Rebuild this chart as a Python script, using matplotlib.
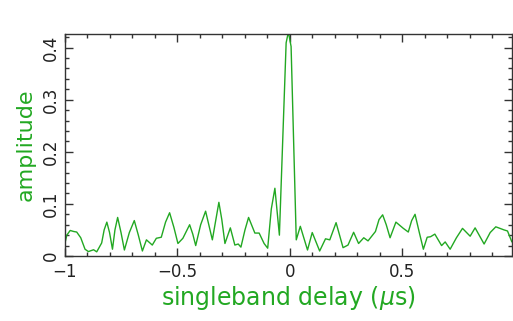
import matplotlib
matplotlib.use('Agg')
import matplotlib.pyplot as plt
from matplotlib.ticker import MultipleLocator

# values (delay in microseconds, amplitude)
delay = [-1.000, -0.992, -0.977, -0.961, -0.948, -0.930, -0.911, -0.896, -0.873, -0.859,
         -0.837, -0.826, -0.814, -0.802, -0.789, -0.778, -0.766, -0.751, -0.736, -0.714,
         -0.692, -0.674, -0.656, -0.638, -0.612, -0.594, -0.572, -0.553, -0.535, -0.516,
         -0.498, -0.476, -0.446, -0.432, -0.419, -0.397, -0.375, -0.345, -0.316, -0.303,
         -0.289, -0.265, -0.245, -0.230, -0.218, -0.200, -0.184, -0.156, -0.137, -0.115,
         -0.099, -0.083, -0.067, -0.047, -0.017, -0.007, 0.005, 0.028, 0.046, 0.078,
         0.099, 0.132, 0.158, 0.177, 0.205, 0.236, 0.258, 0.283, 0.305, 0.328,
         0.347, 0.380, 0.396, 0.412, 0.428, 0.445, 0.471, 0.504, 0.526, 0.541,
         0.556, 0.575, 0.593, 0.610, 0.625, 0.644, 0.674, 0.690, 0.712, 0.740,
         0.767, 0.801, 0.823, 0.863, 0.890, 0.915, 0.952, 0.967, 0.986]
amplitude = [0.025, 0.040, 0.049, 0.047, 0.046, 0.035, 0.013, 0.0085, 0.012, 0.008,
             0.025, 0.050, 0.065, 0.045, 0.013, 0.050, 0.074, 0.045, 0.0115, 0.045,
             0.068, 0.040, 0.0096, 0.031, 0.021, 0.034, 0.036, 0.065, 0.083, 0.055,
             0.024, 0.034, 0.060, 0.042, 0.020, 0.060, 0.086, 0.031, 0.103, 0.070,
             0.024, 0.054, 0.021, 0.023, 0.017, 0.050, 0.074, 0.044, 0.044, 0.024,
             0.015, 0.090, 0.130, 0.040, 0.409, 0.430, 0.402, 0.031, 0.057, 0.0115,
             0.045, 0.0096, 0.033, 0.031, 0.064, 0.016, 0.021, 0.0455, 0.024, 0.035,
             0.029, 0.047, 0.070, 0.079, 0.060, 0.035, 0.065, 0.053, 0.046, 0.068,
             0.080, 0.045, 0.013, 0.036, 0.037, 0.042, 0.020, 0.027, 0.013, 0.035,
             0.053, 0.038, 0.054, 0.023, 0.045, 0.056, 0.050, 0.048, 0.0275]

xticks = [-1, -0.5, 0, 0.5]
xtick_labels = ['\u22121', '\u22120.5', '0', '0.5']
yticks = [0, 0.1, 0.2, 0.3, 0.4]
ytick_labels = ['0', '0.1', '0.2', '0.3', '0.4']

green = '#22a822'

fig = plt.figure(figsize=(5.13, 3.21), dpi=100)
ax = fig.add_axes([65 / 513, 1 - 256 / 321, 447 / 513, 222 / 321])

ax.plot(delay, amplitude, color=green, lw=1.0)

ax.set_xlim(-1, 0.987)
ax.set_ylim(0, 0.426)

ax.set_xticks(xticks)
ax.set_xticklabels(xtick_labels)
ax.set_yticks(yticks)
ax.set_yticklabels(ytick_labels)
ax.xaxis.set_minor_locator(MultipleLocator(0.1))
ax.yaxis.set_minor_locator(MultipleLocator(0.02))

ax.tick_params(which='both', direction='in', top=True, right=True,
               color='#333333', width=1.0, labelsize=12, labelcolor='#222222')
ax.tick_params(which='major', length=6)
ax.tick_params(which='minor', length=3)
ax.tick_params(axis='x', pad=5)
ax.tick_params(axis='y', pad=4)
for lab in ax.get_yticklabels():
    lab.set_rotation(90)
    lab.set_va('center')

for s in ax.spines.values():
    s.set_color('#333333')
    s.set_linewidth(1.0)

ax.set_xlabel('singleband delay ($\\mu$s)', color=green, fontsize=17, labelpad=2)
ax.set_ylabel('amplitude', color=green, fontsize=16, labelpad=4)

fig.savefig('out.png', dpi=100)
